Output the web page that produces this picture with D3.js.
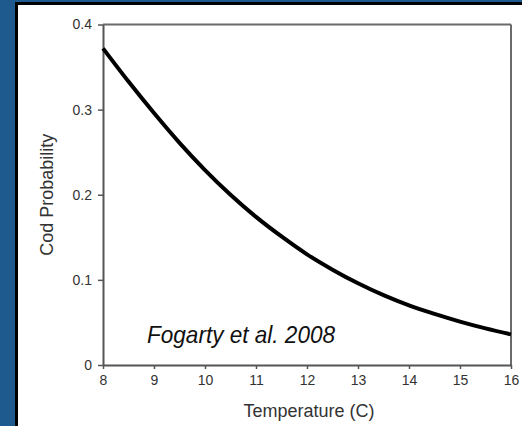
<!DOCTYPE html>
<html>
<head>
<meta charset="utf-8">
<script src="https://cdn.jsdelivr.net/npm/d3@7"></script>
<style>
  html, body { margin: 0; padding: 0; background: #1f5a8e; }
  svg { display: block; }
</style>
</head>
<body>
<script>
// Data
const temperature = [8, 8.5, 9, 9.5, 10, 10.5, 11, 11.5, 12, 12.5, 13, 13.5, 14, 14.5, 15, 15.5, 16];
const codProbability = [0.372, 0.333, 0.296, 0.261, 0.229, 0.200, 0.174, 0.151, 0.130, 0.112, 0.096, 0.082, 0.070, 0.060, 0.051, 0.043, 0.036];
const xTicks = [8, 9, 10, 11, 12, 13, 14, 15, 16];
const yTicks = [0, 0.1, 0.2, 0.3, 0.4];
const yTickLabels = ["0", "0.1", "0.2", "0.3", "0.4"];
const xTitle = "Temperature (C)";
const yTitle = "Cod Probability";
const citation = "Fogarty et al. 2008";

const W = 522, H = 426;
const svg = d3.select("body").append("svg").attr("width", W).attr("height", H);

// background and panel
svg.append("rect").attr("x", 0).attr("y", 0).attr("width", W).attr("height", H).attr("fill", "#1f5a8e");
svg.append("rect").attr("x", 15).attr("y", 2).attr("width", W).attr("height", H).attr("fill", "#000");
svg.append("rect").attr("x", 18).attr("y", 5).attr("width", W).attr("height", H).attr("fill", "#fff");

const x = d3.scaleLinear().domain([8, 16]).range([103, 511]);
const y = d3.scaleLinear().domain([0, 0.4]).range([365, 24.5]);

const axisColor = "#555";
const tickFont = "Liberation Sans, Arial, sans-serif";

// frame top & right
svg.append("line").attr("x1", x(8)).attr("x2", x(16)).attr("y1", y(0.4)).attr("y2", y(0.4))
  .attr("stroke", "#6a6a6a").attr("stroke-width", 2);
svg.append("line").attr("x1", x(16)).attr("x2", x(16)).attr("y1", y(0.4)).attr("y2", y(0))
  .attr("stroke", "#6a6a6a").attr("stroke-width", 2);

// y axis
const yAxis = svg.append("g").attr("transform", `translate(${x(8)},0)`)
  .call(d3.axisLeft(y).tickValues(yTicks).tickFormat((d, i) => yTickLabels[i]).tickSize(5).tickSizeOuter(0).tickPadding(6));
// x axis
const xAxis = svg.append("g").attr("transform", `translate(0,${y(0)})`)
  .call(d3.axisBottom(x).tickValues(xTicks).tickFormat(d3.format("d")).tickSize(4).tickSizeOuter(0).tickPadding(6));

[yAxis, xAxis].forEach(g => {
  g.attr("font-size", null).attr("font-family", null);
  g.select(".domain").attr("stroke", axisColor).attr("stroke-width", 2);
  g.selectAll(".tick line").attr("stroke", axisColor).attr("stroke-width", 1.5);
  g.selectAll(".tick text").attr("fill", "#333")
    .style("font-size", "14px").style("font-family", tickFont);
});

// curve
const line = d3.line().x((d, i) => x(temperature[i])).y(d => y(d)).curve(d3.curveMonotoneX);
svg.append("path").datum(codProbability).attr("d", line)
  .attr("fill", "none").attr("stroke", "#000").attr("stroke-width", 4).attr("stroke-linecap", "butt");

// axis titles
svg.append("text").attr("x", (x(8) + x(16)) / 2 + 2).attr("y", 416.5)
  .attr("text-anchor", "middle").style("font-family", tickFont).style("font-size", "18px")
  .attr("fill", "#333").text(xTitle);
svg.append("text").attr("transform", `translate(53,${(y(0) + y(0.4)) / 2}) rotate(-90)`)
  .attr("text-anchor", "middle").style("font-family", tickFont).style("font-size", "18px")
  .attr("fill", "#333").text(yTitle);

// citation
svg.append("text").attr("x", 147).attr("y", 343)
  .style("font-family", "'Liberation Sans Narrow', 'Arial Narrow', 'Liberation Sans', sans-serif")
  .style("font-style", "italic").style("font-size", "24px")
  .attr("textLength", 188).attr("lengthAdjust", "spacingAndGlyphs")
  .attr("fill", "#111").text(citation);
</script>
</body>
</html>
